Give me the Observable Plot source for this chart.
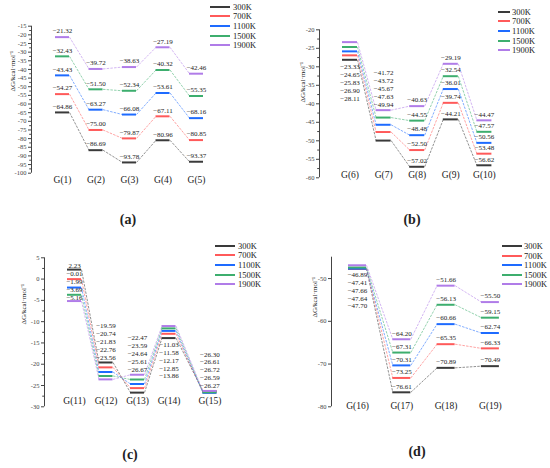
<!DOCTYPE html>
<html><head><meta charset="utf-8">
<script src="https://cdn.jsdelivr.net/npm/d3@7"></script>
<script src="https://cdn.jsdelivr.net/npm/@observablehq/plot@0.6"></script>
<style>
body{margin:0;background:#fff;}
#grid{position:relative;width:550px;height:468px;font-family:"Liberation Serif","Times New Roman",Times,serif;color:#222;}
.panel{position:absolute;width:275px;height:234px;}
.panel svg{position:absolute;left:0;top:0;}
.legend{position:absolute;left:0;top:0;font-size:8.5px;}
.legend .sw{position:absolute;height:2px;}
.legend .lt{position:absolute;line-height:10px;white-space:nowrap;}
.cap{position:absolute;font-size:14px;font-weight:bold;transform:translateX(-50%);line-height:16px;}
</style></head><body><div id="grid"></div>
<script>
const seriesNames = ["300K","700K","1100K","1500K","1900K"];
const seriesColors = ["#3a3a3a","#ff5a5a","#1e6bff","#3dae6e","#b07ce8"];
const yLabel = "ΔG/kcal·mol⁻¹";
const FONT = '"Liberation Serif","Times New Roman",Times,serif';

// Panel (a)
const catsA = ["G(1)","G(2)","G(3)","G(4)","G(5)"];
const a300  = [-64.86,-86.69,-93.78,-80.96,-93.37];
const a700  = [-54.27,-75.00,-79.87,-67.11,-80.85];
const a1100 = [-43.43,-63.27,-66.08,-53.61,-68.16];
const a1500 = [-32.43,-51.50,-52.34,-40.32,-55.35];
const a1900 = [-21.32,-39.72,-38.63,-27.19,-42.46];
const ticksA = d3.range(-15,-101,-5);

// Panel (b)
const catsB = ["G(6)","G(7)","G(8)","G(9)","G(10)"];
const b300  = [-28.11,-49.94,-57.02,-44.21,-56.62];
const b700  = [-26.90,-47.63,-52.50,-39.74,-53.48];
const b1100 = [-25.83,-45.67,-48.48,-36.01,-50.56];
const b1500 = [-24.65,-43.72,-44.55,-32.54,-47.57];
const b1900 = [-23.33,-41.72,-40.63,-29.19,-44.47];
const ticksB = d3.range(-20,-61,-5);

// Panel (c)
const catsC = ["G(11)","G(12)","G(13)","G(14)","G(15)"];
const posC  = [0,1,2,3,4.3];
const c300  = [2.23,-19.59,-26.67,-13.86,-26.30];
const c700  = [-0.01,-20.74,-25.61,-12.85,-26.61];
const c1100 = [-1.99,-21.83,-24.64,-12.17,-26.72];
const c1500 = [-3.69,-22.76,-23.59,-11.58,-26.59];
const c1900 = [-5.16,-23.56,-22.47,-11.03,-26.27];
const ticksC = d3.range(5,-31,-5);

// Panel (d)
const catsD = ["G(16)","G(17)","G(18)","G(19)"];
const d300  = [-47.70,-76.61,-70.89,-70.49];
const d700  = [-47.64,-73.25,-65.35,-66.33];
const d1100 = [-47.66,-70.31,-60.66,-62.74];
const d1500 = [-47.41,-67.31,-56.13,-59.15];
const d1900 = [-46.89,-64.20,-51.66,-55.50];
const ticksD = [-50,-60,-70,-80];

const fmt = v => (v < 0 ? "−" : "") + Math.abs(v).toFixed(2);

function drawPanel(cfg) {
  const W = 275, H = 234;
  const n = cfg.cats.length;
  const pos = cfg.pos || d3.range(n);
  const xlo = -(cfg.firstPx - cfg.axisPx) / cfg.spacing;
  const xhi = xlo + (W - cfg.axisPx) / cfg.spacing;
  const hw = cfg.hwPx / cfg.spacing;
  const rows = [];
  cfg.vals.forEach((arr, s) => arr.forEach((v, i) => rows.push({s, i, x: pos[i], y: v})));
  const links = [];
  cfg.vals.forEach((arr, s) => { for (let i = 0; i < n - 1; i++) links.push({s, x1: pos[i] + hw, y1: arr[i], x2: pos[i+1] - hw, y2: arr[i+1]}); });
  const labels = [];
  for (let i = 0; i < n; i++) {
    const mode = cfg.modes ? cfg.modes[i] : "above";
    const col = cfg.vals.map(a => a[i]);
    const step = cfg.step || 8;
    const order = (cfg.orders && cfg.orders[i] === "fwd") ? [0,1,2,3,4] : [4,3,2,1,0];
    if (mode === "above") {
      col.forEach(v => labels.push({x: pos[i], y: v, text: fmt(v), dy: -6}));
    } else if (mode === "stackDown") {
      const anchor = d3.max(col);
      order.forEach((s, k) => labels.push({x: pos[i], y: anchor, text: fmt(col[s]), dy: -3.5 + k * step}));
    } else if (mode === "stackBelow") {
      const anchor = d3.min(col);
      order.forEach((s, k) => labels.push({x: pos[i], y: anchor, text: fmt(col[s]), dy: 6.5 + k * step}));
    } else {
      const anchor = d3.max(col);
      order.forEach((s, k) => labels.push({x: pos[i], y: anchor, text: fmt(col[s]), dy: -(5 + (4 - k) * step)}));
    }
  }
  const dyGroups = d3.group(labels, d => d.dy);
  const labelMarks = [...dyGroups].map(([dy, arr]) => Plot.text(arr, {x: "x", y: "y", text: "text", dy, fontSize: 7, fontFamily: FONT, fill: "#222"}));
  const marks = [
    Plot.ruleX([xlo], {stroke: "#444", strokeWidth: 1}),
    Plot.axisY({ticks: cfg.ticks, tickSize: 3, tickPadding: 2, fontSize: 6.5, fontFamily: FONT, tickFormat: d => String(d), label: null, stroke: "#444", fill: "#444"}),
    ...(cfg.minor ? [Plot.axisY({ticks: cfg.minor, tickSize: 1.8, tickFormat: () => "", label: null, stroke: "#444"})] : []),
    Plot.link(links, {x1: "x1", y1: "y1", x2: "x2", y2: "y2", stroke: d => seriesColors[d.s], strokeWidth: 0.8, strokeDasharray: "2.5,1.2", strokeOpacity: 0.7}),
    Plot.ruleY(rows, {y: "y", x1: d => d.x - hw, x2: d => d.x + hw, stroke: d => seriesColors[d.s], strokeWidth: 2}),
    ...labelMarks,
    Plot.text(cfg.cats, {x: (d, i) => pos[i], frameAnchor: "bottom", dy: cfg.catLabelPx - cfg.bottomPx, text: d => d, fontSize: 9.5, fontFamily: FONT, fill: "#222"}),
    Plot.text([yLabel], {frameAnchor: "left", rotate: -90, dx: cfg.ylabelPx - cfg.axisPx, dy: cfg.ylabelCenter - (cfg.topPx + cfg.bottomPx) / 2, text: d => d, fontSize: 7, fontFamily: FONT, fill: "#222"})
  ];
  const plot = Plot.plot({
    width: W, height: H,
    marginLeft: cfg.axisPx, marginRight: 0,
    marginTop: cfg.topPx, marginBottom: H - cfg.bottomPx,
    style: {fontFamily: FONT, background: "transparent", overflow: "visible"},
    x: {domain: [xlo, xhi], axis: null},
    y: {domain: cfg.yDomain, axis: null},
    marks
  });
  const div = document.createElement("div");
  div.className = "panel";
  div.style.left = cfg.left + "px";
  div.style.top = cfg.top + "px";
  div.appendChild(plot);
  const leg = document.createElement("div");
  leg.className = "legend";
  seriesNames.forEach((name, s) => {
    const cy = cfg.legend.y0 + s * 9.6;
    const sw = document.createElement("div");
    sw.className = "sw";
    sw.style.left = Math.round(cfg.legend.x0) + "px";
    sw.style.width = cfg.legend.len + "px";
    sw.style.top = Math.round(cy - 1) + "px";
    sw.style.background = seriesColors[s];
    const t = document.createElement("div");
    t.className = "lt";
    t.style.left = cfg.legend.tx + "px";
    t.style.top = (cy - 5) + "px";
    t.textContent = name;
    leg.appendChild(sw); leg.appendChild(t);
  });
  div.appendChild(leg);
  const cap = document.createElement("div");
  cap.className = "cap";
  cap.style.left = cfg.capX + "px";
  cap.style.top = (cfg.capY - 8) + "px";
  cap.textContent = cfg.caption;
  div.appendChild(cap);
  document.getElementById("grid").appendChild(div);
}

drawPanel({left: 0, top: 0, cats: catsA, vals: [a300,a700,a1100,a1500,a1900],
  yDomain: [-100,-15], ticks: ticksA, minor: d3.range(-17.5,-100,-5),
  axisPx: 31, firstPx: 62, spacing: 33.5, topPx: 25.7, bottomPx: 172.7, hwPx: 7,
  catLabelPx: 182, ylabelPx: 12, ylabelCenter: 91,
  legend: {x0: 210, len: 20, tx: 233, y0: 6.7}, caption: "(a)", capX: 128, capY: 220});

drawPanel({left: 275, top: 0, cats: catsB, vals: [b300,b700,b1100,b1500,b1900],
  yDomain: [-60,-20], ticks: ticksB, minor: d3.range(-22.5,-60,-5),
  axisPx: 44, firstPx: 74.5, spacing: 33.6, topPx: 29.3, bottomPx: 177.3, hwPx: 7.5,
  modes: ["stackBelow","stackAbove","above","above","above"], orders: ["rev","rev","rev","rev","rev"], step: 8.2,
  catLabelPx: 177, ylabelPx: 27, ylabelCenter: 102,
  legend: {x0: 223, len: 12, tx: 237, y0: 11.7}, caption: "(b)", capX: 137, capY: 220});

drawPanel({left: 0, top: 234, cats: catsC, pos: posC, vals: [c300,c700,c1100,c1500,c1900],
  yDomain: [-30,5], ticks: ticksC, minor: d3.range(2.5,-30,-5),
  axisPx: 44, firstPx: 74, spacing: 31.5, topPx: 23.3, bottomPx: 172.3, hwPx: 7,
  modes: ["stackDown","stackAbove","stackAbove","stackBelow","stackAbove"], orders: ["fwd","fwd","rev","rev","fwd"], step: 7.9,
  catLabelPx: 169, ylabelPx: 23, ylabelCenter: 90,
  legend: {x0: 215, len: 20, tx: 238, y0: 11.7}, caption: "(c)", capX: 130, capY: 221});

drawPanel({left: 275, top: 234, cats: catsD, vals: [d300,d700,d1100,d1500,d1900],
  yDomain: [-80,-45], ticks: ticksD, minor: null,
  axisPx: 56, firstPx: 82, spacing: 44.3, topPx: 22.7, bottomPx: 172.3, hwPx: 9,
  modes: ["stackBelow","above","above","above"], orders: ["rev","rev","rev","rev"], step: 7.7,
  catLabelPx: 174, ylabelPx: 39, ylabelCenter: 83,
  legend: {x0: 227, len: 20, tx: 249, y0: 12}, caption: "(d)", capX: 142, capY: 218});
</script></body></html>
